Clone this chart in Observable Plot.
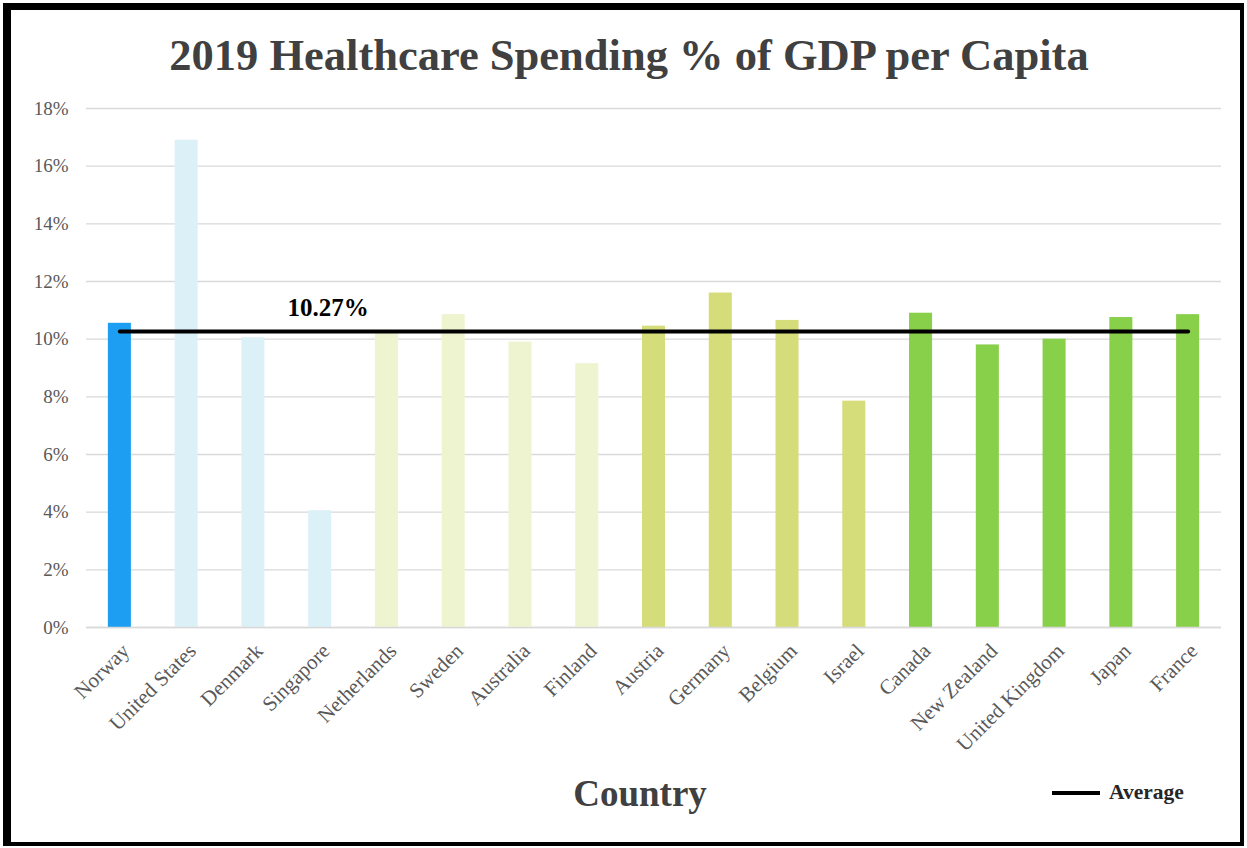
<!DOCTYPE html>
<html>
<head>
<meta charset="utf-8">
<script src="https://cdn.jsdelivr.net/npm/d3@7"></script>
<script src="https://cdn.jsdelivr.net/npm/@observablehq/plot@0.6"></script>
<style>
  html, body { margin: 0; padding: 0; background: #fff; }
  #wrap { position: relative; width: 1247px; height: 848px; overflow: hidden; font-family: "Liberation Serif", "Times New Roman", serif; }
  #frame { position: absolute; left: 3px; top: 3px; width: 1241px; height: 843px; box-sizing: border-box;
           border-style: solid; border-color: #000; border-width: 7px 4px 4px 8px; pointer-events: none; }
  #title { position: absolute; left: 0; width: 1258px; top: 29px; text-align: center; font-weight: bold;
           font-size: 44.5px; color: #404040; }
  #xtitle { position: absolute; left: 0; width: 1280px; top: 772px; text-align: center; font-weight: bold;
            font-size: 37px; color: #404040; }
  #legend { position: absolute; left: 1052px; top: 780px; display: flex; align-items: center; gap: 9px;
            font-weight: bold; font-size: 21.5px; color: #262626; }
  #legend .sw { width: 48px; height: 4px; background: #000; }
  #chart { position: absolute; left: 0; top: 0; }
</style>
</head>
<body>
<div id="wrap">
  <div id="chart"></div>
  <div id="title">2019 Healthcare Spending % of GDP per Capita</div>
  <div id="xtitle">Country</div>
  <div id="legend"><div class="sw"></div><span>Average</span></div>
  <div id="frame"></div>
</div>
<script>
const countries = ["Norway","United States","Denmark","Singapore","Netherlands","Sweden","Australia","Finland","Austria","Germany","Belgium","Israel","Canada","New Zealand","United Kingdom","Japan","France"];
const values = [10.55, 16.9, 10.05, 4.05, 10.2, 10.85, 9.9, 9.15, 10.45, 11.6, 10.65, 7.85, 10.9, 9.8, 10.0, 10.75, 10.85];
const tiers = ["highlight","tier1","tier1","tier1","tier2","tier2","tier2","tier2","tier3","tier3","tier3","tier3","tier4","tier4","tier4","tier4","tier4"];
const tierNames = ["highlight","tier1","tier2","tier3","tier4"];
const tierColors = ["#1e9ef2","#dcf0f8","#eff4d0","#d5dc7a","#88cf4a"];
const average = 10.27;
const averageLabel = "10.27%";
const yTicks = [0,2,4,6,8,10,12,14,16,18];

const data = countries.map((c, i) => ({country: c, value: values[i], tier: tiers[i]}));
const avgLine = [{country: countries[0], value: average}, {country: countries[countries.length - 1], value: average}];

const chart = Plot.plot({
  width: 1247,
  height: 848,
  marginLeft: 86,
  marginRight: 26,
  marginTop: 108,
  marginBottom: 221,
  style: { fontFamily: "'Liberation Serif', 'Times New Roman', serif", background: "transparent" },
  x: { domain: countries, paddingInner: 0.655, paddingOuter: 0.3275, round: false, label: null },
  y: { domain: [0, 18], label: null },
  color: { domain: tierNames, range: tierColors },
  marks: [
    Plot.gridY(yTicks, { stroke: "#d9d9d9", strokeOpacity: 1, strokeWidth: 1.3 }),
    Plot.barY(data, { x: "country", y: "value", fill: "tier" }),
    Plot.ruleY([0], { stroke: "#d9d9d9", strokeWidth: 1.3 }),
    Plot.line(avgLine, { x: "country", y: "value", stroke: "#000", strokeWidth: 4 }),
    Plot.text([{country: countries[3], value: average}], { x: "country", y: "value", text: () => averageLabel, dy: -23, dx: 8, fontSize: 25, fontWeight: "bold", fill: "#000" }),
    Plot.axisY(yTicks, { tickSize: 0, tickPadding: 18, fontSize: 19, fill: "#595959", tickFormat: d => d + "%", label: null }),
    Plot.axisX({ tickSize: 0, tickRotate: -45, tickPadding: 8, dx: 6, dy: 12, fontSize: 21, fill: "#595959", label: null })
  ]
});
document.getElementById("chart").appendChild(chart);
</script>
</body>
</html>
